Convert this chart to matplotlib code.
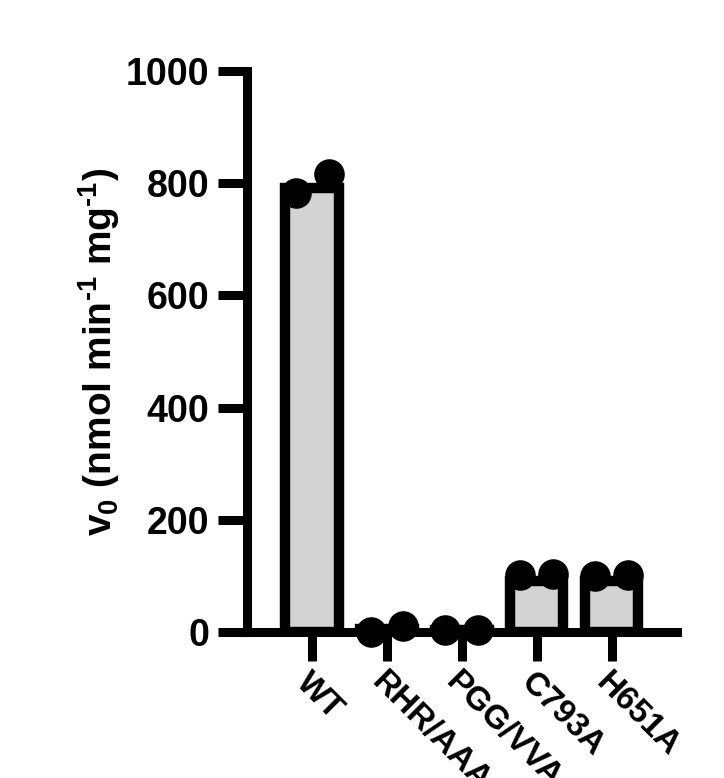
import numpy as np
import matplotlib
matplotlib.use("Agg")
import matplotlib.pyplot as plt

plt.rcParams["font.family"] = ["Liberation Sans", "DejaVu Sans"]
plt.rcParams["font.weight"] = "bold"
plt.rcParams["mathtext.fontset"] = "custom"
plt.rcParams["mathtext.rm"] = "Liberation Sans:bold"
plt.rcParams["mathtext.bf"] = "Liberation Sans:bold"
plt.rcParams["mathtext.default"] = "bf"

# values
groups = ["WT", "RHR/AAA", "PGG/VVA", "C793A", "H651A"]
bar_values = [792, 6, 3, 90, 90]
rep1 = [782, 0, 3, 101, 100]
rep2 = [816, 10, 3, 103, 101]

x = np.arange(len(groups))

fig = plt.figure(figsize=(7.24, 7.78), dpi=100)
ax = fig.add_axes([0.341, 0.1877, 0.594, 0.721])

ax.bar(x, bar_values, width=0.71, color="#d3d3d3", edgecolor="black",
       linewidth=7.5, zorder=2)
ax.plot(x - 0.22, rep1, "o", color="black", markersize=21, zorder=3, clip_on=False)
ax.plot(x + 0.22, rep2, "o", color="black", markersize=21, zorder=3, clip_on=False)

ax.set_xlim(-0.87, 4.87)
ax.set_ylim(0, 1000)
ax.set_yticks([0, 200, 400, 600, 800, 1000])
ax.set_xticks(x)
ax.set_xticklabels(groups, rotation=-45, ha="left", va="top",
                   rotation_mode="anchor")

for side in ["top", "right"]:
    ax.spines[side].set_visible(False)
for side in ["left", "bottom"]:
    ax.spines[side].set_linewidth(6.5)
    ax.spines[side].set_capstyle("projecting")

ax.tick_params(axis="both", width=6.5, length=21, labelsize=27)
ax.tick_params(axis="y", pad=6)
ax.tick_params(axis="x", pad=4, labelsize=24)

ax.set_ylabel(r"v$_0$ (nmol min$^{\text{-1}}$ mg$^{\text{-1}}$)", fontsize=28,
              fontweight="bold", labelpad=3)

fig.savefig("out.png", dpi=100)
